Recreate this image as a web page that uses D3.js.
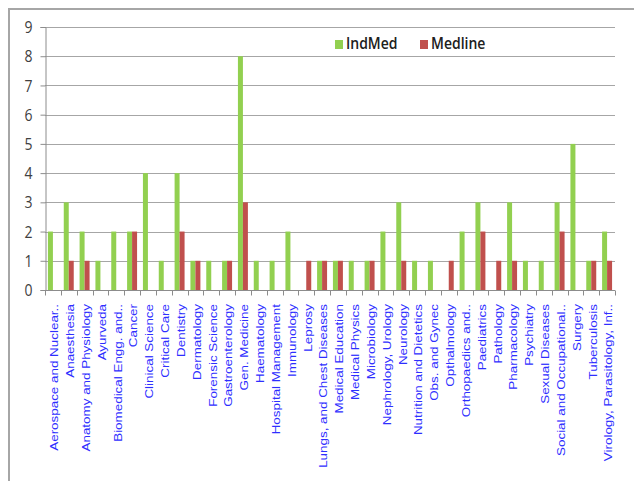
<!DOCTYPE html>
<html lang="en">
<head>
<meta charset="utf-8">
<title>IndMed vs Medline</title>
<style>
  body { margin: 0; background: white; }
  svg { display: block; }
  .ylab { font-family: "Open Sans", sans-serif; font-size: 14px; fill: #404040; }
  .xlab { font-family: "Liberation Sans", Arial, sans-serif; font-size: 11px; fill: #2e2eff; }
  .leg { font-family: "Open Sans", sans-serif; font-size: 14px; font-weight: 600; fill: #202020; }
</style>
<script src="https://d3js.org/d3.v7.min.js"></script>
</head>
<body>
<script>
const categories = [
  "Aerospace and Nuclear..", "Anaesthesia", "Anatomy and Physiology", "Ayurveda",
  "Biomedical Engg. and..", "Cancer", "Clinical Science", "Critical Care",
  "Dentistry", "Dermatology", "Forensic Science", "Gastroenterology",
  "Gen. Medicine", "Haematology", "Hospital Management", "Immunology",
  "Leprosy", "Lungs, and Chest Diseases", "Medical Education", "Medical Physics",
  "Microbiology", "Nephrology, Urology", "Neurology", "Nutrition and Dietetics",
  "Obs. and Gynec", "Opthalmology", "Orthopaedics and..", "Paediatrics",
  "Pathology", "Pharmacology", "Psychiatry", "Sexual Diseases",
  "Social and Occupational..", "Surgery", "Tuberculosis", "Virology, Parasitology, Inf.."
]
const indMed  = [2,3,2,1,2,2,4,1,4,1,1,1,8,1,1,2,0,1,1,1,1,2,3,1,1,0,2,3,0,3,1,1,3,5,1,2]
const medline = [0,1,1,0,0,2,0,0,2,1,0,1,3,0,0,0,1,1,1,0,1,0,1,0,0,1,0,2,1,1,0,0,2,0,1,1]
const seriesNames = ["IndMed", "Medline"]
const seriesColors = ["#92d050", "#c0504d"]
const yTicks = [0,1,2,3,4,5,6,7,8,9]

let width = 634
let height = 481

let svg = d3.select("body").append("svg")
    .attr("width", width)
    .attr("height", height)

// outer chart frame (runs off the right and bottom edges)
svg.append("rect")
    .attr("x", 9).attr("y", 9)
    .attr("width", 700).attr("height", 600)
    .attr("fill", "none")
    .attr("stroke", "#a6a6a6")
    .attr("stroke-width", 2)

let x = d3.scaleBand().domain(categories).range([45, 615])
let groupW = x.step() * 0.63
let xInner = d3.scaleBand().domain(seriesNames).range([0, groupW])
let y = d3.scaleLinear().domain([0, 9]).range([290, 27])

// gridlines
svg.append("g")
    .selectAll("line")
    .data(yTicks.filter(d => d > 0))
    .enter().append("line")
    .attr("x1", 45).attr("x2", 615)
    .attr("y1", d => Math.round(y(d)) + 0.5)
    .attr("y2", d => Math.round(y(d)) + 0.5)
    .attr("stroke", "#a6a6a6")

// bars
let rows = categories.map((c, i) => ({cat: c, vals: [indMed[i], medline[i]]}))
let groups = svg.append("g").selectAll("g")
    .data(rows)
    .enter().append("g")
    .attr("transform", d => `translate(${x(d.cat) + (x.step() - groupW) / 2},0)`)

groups.selectAll("rect")
    .data(d => d.vals.map((v, j) => ({name: seriesNames[j], v: v, j: j})))
    .enter().append("rect")
    .attr("x", d => xInner(d.name))
    .attr("width", xInner.bandwidth())
    .attr("y", d => y(d.v))
    .attr("height", d => y(0) - y(d.v))
    .attr("fill", d => seriesColors[d.j])

// y axis
let yAxis = svg.append("g")
    .attr("transform", "translate(45.5,0)")
    .call(d3.axisLeft(y).tickValues(yTicks).tickSize(5).tickPadding(8))
yAxis.select(".domain").attr("stroke", "#8c8c8c")
yAxis.selectAll(".tick line").attr("stroke", "#8c8c8c")
yAxis.selectAll(".tick text")
    .attr("class", "ylab")
    .attr("transform", "scale(1,1.18)")
    .attr("dy", "0.34em")

// x axis line + boundary ticks
let xg = svg.append("g").attr("transform", "translate(0,290.5)")
xg.append("line")
    .attr("x1", 45).attr("x2", 615)
    .attr("stroke", "#8c8c8c")
xg.selectAll(".bt")
    .data(categories.concat(["end"]))
    .enter().append("line")
    .attr("class", "bt")
    .attr("x1", (d, i) => Math.round(i < categories.length ? x(d) : x.range()[1]) + 0.5)
    .attr("x2", (d, i) => Math.round(i < categories.length ? x(d) : x.range()[1]) + 0.5)
    .attr("y1", 0).attr("y2", 5)
    .attr("stroke", "#8c8c8c")

// x labels
let xAxis = svg.append("g")
    .attr("transform", "translate(0,290)")
    .call(d3.axisBottom(x).tickSize(0))
xAxis.select(".domain").remove()
xAxis.selectAll(".tick text")
    .attr("class", "xlab")
    .attr("x", 0).attr("y", 0)
    .attr("dy", "0.48em")
    .attr("text-anchor", "end")
    .attr("transform", "translate(0,14) rotate(-90) scale(1.22,1)")

// legend
let legend = svg.append("g")
let legX = [335, 420]
seriesNames.forEach((n, i) => {
    legend.append("rect")
        .attr("x", legX[i]).attr("y", 40)
        .attr("width", 8).attr("height", 9)
        .attr("fill", seriesColors[i])
    legend.append("text")
        .attr("class", "leg")
        .attr("x", legX[i] + 11).attr("y", 49)
        .attr("transform", `translate(0,49) scale(1,1.15) translate(0,-49)`)
        .text(n)
})
</script>
</body>
</html>
